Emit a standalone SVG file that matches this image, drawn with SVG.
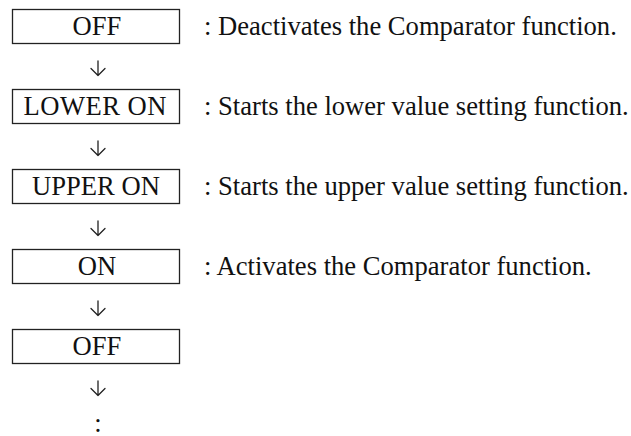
<svg xmlns="http://www.w3.org/2000/svg" width="631" height="436" viewBox="0 0 631 436">
<style>
.box{fill:#fff;stroke:#222;stroke-width:1.3}
.t{font-family:"Liberation Serif","Times New Roman",serif;font-size:26.6px;fill:#111}
.c{text-anchor:middle}
.arr{fill:none;stroke:#222;stroke-width:1.3;stroke-linecap:round;stroke-linejoin:round}
</style>
<rect width="631" height="436" fill="#fff"/>
<g id="n1"><rect class="box" x="12.5" y="9.5" width="167" height="34"/><text class="t c" x="97" y="35">OFF</text><text class="t" x="204" y="35">: Deactivates the Comparator function.</text></g>
<g id="n2"><rect class="box" x="12.5" y="89.5" width="167" height="34"/><text class="t c" x="95" y="115" textLength="143" lengthAdjust="spacing">LOWER ON</text><text class="t" x="204" y="115">: Starts the lower value setting function.</text></g>
<g id="n3"><rect class="box" x="12.5" y="169.5" width="167" height="34"/><text class="t c" x="96" y="195">UPPER ON</text><text class="t" x="204" y="195">: Starts the upper value setting function.</text></g>
<g id="n4"><rect class="box" x="12.5" y="249.5" width="167" height="34"/><text class="t c" x="97" y="275">ON</text><text class="t" x="204" y="275">: Activates the Comparator function.</text></g>
<g id="n5"><rect class="box" x="12.5" y="329.5" width="167" height="34"/><text class="t c" x="97" y="355">OFF</text></g>
<g id="connectors">
<path class="arr" d="M98 61V75.5M91 68.5L98 75.5L105 68.5"/>
<path class="arr" d="M98 141V155.5M91 148.5L98 155.5L105 148.5"/>
<path class="arr" d="M98 221V235.5M91 228.5L98 235.5L105 228.5"/>
<path class="arr" d="M98 301V315.5M91 308.5L98 315.5L105 308.5"/>
<path class="arr" d="M98 381V395.5M91 388.5L98 395.5L105 388.5"/>
</g>
<text class="t c" x="98" y="432">:</text>
</svg>
